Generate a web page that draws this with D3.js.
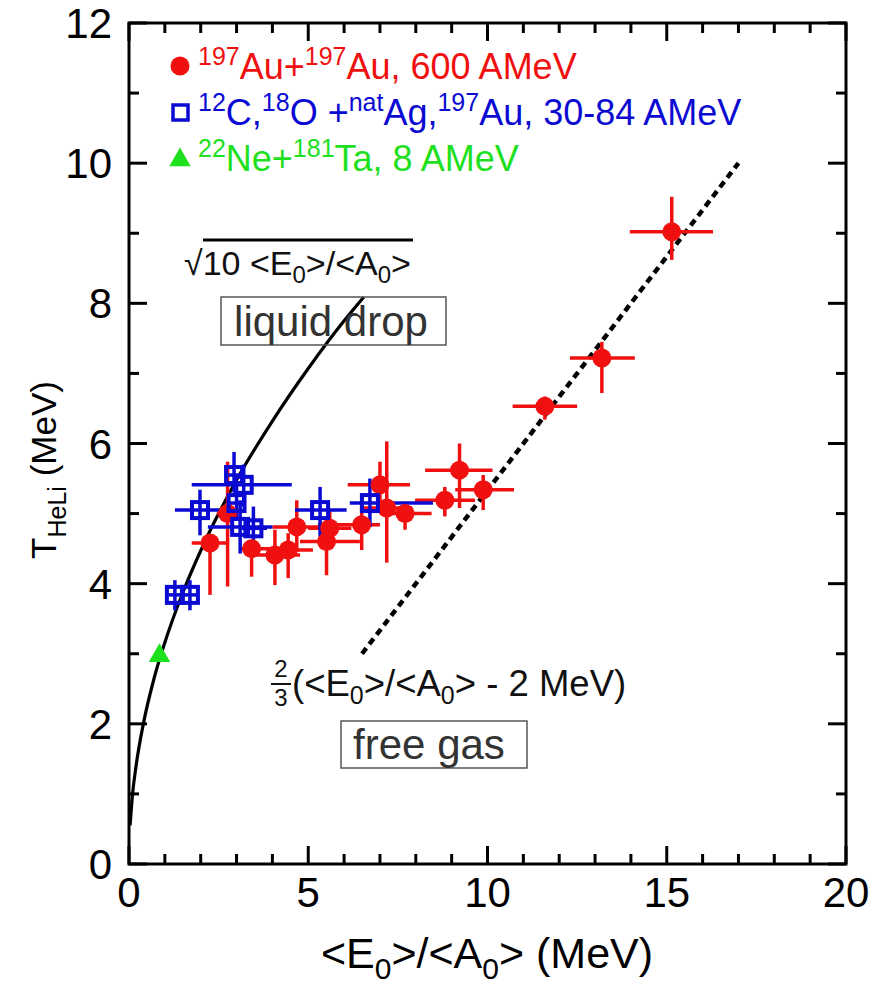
<!DOCTYPE html>
<html>
<head>
<meta charset="utf-8">
<script src="https://cdn.jsdelivr.net/npm/d3@7"></script>
<style>
  html, body { margin: 0; padding: 0; background: #fff; }
  svg text { font-family: "Liberation Sans", Arial, Helvetica, sans-serif; }
</style>
</head>
<body>
<svg id="chart" width="871" height="989"></svg>
<script>
// ---------- DATA ----------
// 197Au + 197Au, 600 AMeV (red circles)
const auX    = [2.26, 2.75, 3.42, 4.07, 4.44, 4.68, 5.51, 5.60, 6.49, 7.00, 7.19, 7.70, 8.81, 9.22, 9.88, 11.60, 13.19, 15.14];
const auY    = [4.58, 5.00, 4.50, 4.41, 4.48, 4.81, 4.60, 4.79, 4.84, 5.41, 5.08, 5.00, 5.19, 5.62, 5.34, 6.53, 7.22, 9.02];
const auXLo  = [1.75, 2.45, 3.10, 3.42, 4.00, 4.00, 4.77, 5.00, 5.27, 6.10, 6.50, 7.00, 7.98, 8.26, 9.10, 10.70, 12.30, 13.97];
const auXHi  = [2.76, 3.05, 4.00, 4.77, 5.13, 5.33, 6.44, 6.20, 7.00, 7.84, 7.90, 8.44, 9.65, 10.14, 10.74, 12.50, 14.11, 16.29];
const auYLo  = [3.84, 3.96, 4.10, 3.98, 4.08, 4.45, 4.12, 4.55, 4.48, 5.08, 4.30, 4.77, 4.96, 5.08, 5.05, 6.34, 6.72, 8.62];
const auYHi  = [4.68, 5.74, 4.60, 4.77, 4.72, 5.19, 4.86, 5.05, 5.10, 5.74, 6.03, 5.17, 5.38, 6.00, 5.55, 6.67, 7.45, 9.52];

// 12C,18O + natAg,197Au, 30-84 AMeV (blue open squares)
const cX   = [1.28, 1.70, 1.98, 2.93, 3.20, 3.00, 3.10, 3.47, 5.33, 6.72];
const cY   = [3.84, 3.84, 5.05, 5.55, 5.41, 5.15, 4.81, 4.79, 5.05, 5.15];
const cXLo = [1.10, 1.50, 1.28, 2.75, 1.75, 2.75, 2.20, 3.15, 4.63, 6.16];
const cXHi = [1.45, 1.90, 2.54, 3.10, 4.54, 3.25, 4.00, 3.85, 6.07, 8.48];
const cYLo = [3.62, 3.62, 4.69, 5.30, 5.10, 4.90, 4.43, 4.50, 4.67, 4.81];
const cYHi = [4.05, 4.05, 5.34, 5.88, 5.70, 5.40, 5.19, 5.10, 5.38, 5.50];

// 22Ne + 181Ta, 8 AMeV (green triangle)
const neX = [0.85];
const neY = [3.00];

// liquid drop curve sqrt(10 <E0>/<A0>)
const ldX = [0.03, 0.1, 0.2, 0.4, 0.7, 1.0, 1.5, 2.0, 2.5, 3.0, 4.0, 5.0, 6.0, 6.55];
const ldY = [0.55, 1.00, 1.41, 2.00, 2.65, 3.16, 3.87, 4.47, 5.00, 5.48, 6.32, 7.07, 7.75, 8.09];

// free gas line 2/3(<E0>/<A0> - 2 MeV)
const fgX = [6.5, 17.0];
const fgY = [3.0, 10.0];

// axes
const xTicks = [0, 5, 10, 15, 20];
const yTicks = [0, 2, 4, 6, 8, 10, 12];
const xMinor = d3.range(0, 21, 1);
const yMinor = d3.range(0, 13, 1);

// ---------- LAYOUT ----------
const svg = d3.select("#chart");
const L = 129, R = 846, T = 23, B = 864;
const x = d3.scaleLinear().domain([0, 20]).range([L, R]);
const y = d3.scaleLinear().domain([0, 12]).range([B, T]);

const RED = "#f01010", BLUE = "#0a0ad2", GREEN = "#1ee01e";

// ---------- curves ----------
const line = d3.line().x(d => x(d[0])).y(d => y(d[1]));
svg.append("path")
  .attr("d", line.curve(d3.curveMonotoneX)(ldX.map((v, i) => [v, ldY[i]])))
  .attr("fill", "none").attr("stroke", "#000").attr("stroke-width", 3.2);
svg.append("path")
  .attr("d", d3.line().x(d => x(d[0])).y(d => y(d[1]))(fgX.map((v, i) => [v, fgY[i]])))
  .attr("fill", "none").attr("stroke", "#000").attr("stroke-width", 4.5)
  .attr("stroke-dasharray", "7,5");

// ---------- error bars ----------
function errBars(xs, ys, xlo, xhi, ylo, yhi, color) {
  const g = svg.append("g").attr("stroke", color).attr("stroke-width", 3.5);
  xs.forEach((v, i) => {
    g.append("line").attr("x1", x(xlo[i])).attr("x2", x(xhi[i])).attr("y1", y(ys[i])).attr("y2", y(ys[i]));
    g.append("line").attr("x1", x(v)).attr("x2", x(v)).attr("y1", y(ylo[i])).attr("y2", y(yhi[i]));
  });
}
errBars(auX, auY, auXLo, auXHi, auYLo, auYHi, RED);
errBars(cX, cY, cXLo, cXHi, cYLo, cYHi, BLUE);

// ---------- markers ----------
svg.append("g").selectAll("circle").data(auX).join("circle")
  .attr("cx", d => x(d)).attr("cy", (d, i) => y(auY[i])).attr("r", 9.5).attr("fill", RED);
svg.append("g").selectAll("rect").data(cX).join("rect")
  .attr("x", d => x(d) - 8).attr("y", (d, i) => y(cY[i]) - 8)
  .attr("width", 16).attr("height", 16)
  .attr("fill", "none").attr("stroke", BLUE).attr("stroke-width", 4);
const tri = d3.symbol().type(d3.symbolTriangle).size(200);
svg.append("g").selectAll("path").data(neX).join("path")
  .attr("d", tri).attr("transform", (d, i) => `translate(${x(d)},${y(neY[i]) + 2})`)
  .attr("fill", GREEN);

// ---------- frame & ticks ----------
svg.append("rect").attr("x", L).attr("y", T).attr("width", R - L).attr("height", B - T)
  .attr("fill", "none").attr("stroke", "#000").attr("stroke-width", 3);
const tk = svg.append("g").attr("stroke", "#000").attr("stroke-width", 3);
xMinor.forEach(v => {
  const len = xTicks.includes(v) ? 18 : 10;
  tk.append("line").attr("x1", x(v)).attr("x2", x(v)).attr("y1", B).attr("y2", B - len);
  tk.append("line").attr("x1", x(v)).attr("x2", x(v)).attr("y1", T).attr("y2", T + len);
});
yMinor.forEach(v => {
  const len = yTicks.includes(v) ? 18 : 10;
  tk.append("line").attr("y1", y(v)).attr("y2", y(v)).attr("x1", L).attr("x2", L + len);
  tk.append("line").attr("y1", y(v)).attr("y2", y(v)).attr("x1", R).attr("x2", R - len);
});
svg.append("g").selectAll("text").data(xTicks).join("text")
  .attr("x", d => x(d)).attr("y", B + 43).attr("text-anchor", "middle")
  .attr("font-size", 42).text(d => d);
svg.append("g").selectAll("text").data(yTicks).join("text")
  .attr("x", L - 17).attr("y", d => y(d) + 15).attr("text-anchor", "end")
  .attr("font-size", 42).text(d => d);

// ---------- axis titles ----------
const xt = svg.append("text").attr("x", 487).attr("y", 968).attr("text-anchor", "middle").attr("font-size", 43);
xt.append("tspan").text("<E");
xt.append("tspan").attr("font-size", 30).attr("dy", 11).text("0");
xt.append("tspan").attr("dy", -11).text(">/<A");
xt.append("tspan").attr("font-size", 30).attr("dy", 11).text("0");
xt.append("tspan").attr("dy", -11).text("> (MeV)");

const yt = svg.append("text").attr("transform", "translate(56,470) rotate(-90)")
  .attr("text-anchor", "middle").attr("font-size", 35);
yt.append("tspan").text("T");
yt.append("tspan").attr("font-size", 25).attr("dy", 10).text("HeLi");
yt.append("tspan").attr("dy", -10).text(" (MeV)");

// ---------- legend ----------
const legend = [
  {sym: "circle", color: RED, parts: [["197", 1], ["Au+", 0], ["197", 1], ["Au, 600 AMeV", 0]]},
  {sym: "square", color: BLUE, parts: [["12", 1], ["C,", 0], ["18", 1], ["O +", 0], ["nat", 1], ["Ag,", 0], ["197", 1], ["Au, 30-84 AMeV", 0]]},
  {sym: "triangle", color: GREEN, parts: [["22", 1], ["Ne+", 0], ["181", 1], ["Ta, 8 AMeV", 0]]}
];
legend.forEach((l, i) => {
  const cy = 66 + i * 46;
  if (l.sym === "circle") svg.append("circle").attr("cx", 180).attr("cy", cy).attr("r", 9.5).attr("fill", l.color);
  if (l.sym === "square") svg.append("rect").attr("x", 173).attr("y", cy - 7).attr("width", 15).attr("height", 15)
      .attr("fill", "none").attr("stroke", l.color).attr("stroke-width", 3.5);
  if (l.sym === "triangle") svg.append("path").attr("d", d3.symbol().type(d3.symbolTriangle).size(200)())
      .attr("transform", `translate(180,${cy + 2})`).attr("fill", l.color);
  const t = svg.append("text").attr("x", 198).attr("y", cy + 13).attr("font-size", 36).attr("fill", l.color);
  let sup = false;
  l.parts.forEach(([s, isSup]) => {
    const ts = t.append("tspan").text(s);
    if (isSup && !sup) { ts.attr("font-size", 25).attr("dy", -14); sup = true; }
    else if (!isSup && sup) { ts.attr("dy", 14); sup = false; }
    else if (isSup) ts.attr("font-size", 25);
  });
});

// ---------- annotations ----------
const sq = svg.append("text").attr("x", 184).attr("y", 275).attr("font-size", 34).attr("fill", "#111");
sq.append("tspan").text("√10 <E");
sq.append("tspan").attr("font-size", 24).attr("dy", 8).text("0");
sq.append("tspan").attr("dy", -8).text(">/<A");
sq.append("tspan").attr("font-size", 24).attr("dy", 8).text("0");
sq.append("tspan").attr("dy", -8).text(">");
svg.append("line").attr("x1", 203).attr("x2", 413).attr("y1", 240).attr("y2", 240)
  .attr("stroke", "#000").attr("stroke-width", 3);

svg.append("rect").attr("x", 221).attr("y", 297).attr("width", 225).attr("height", 48)
  .attr("fill", "none").attr("stroke", "#555").attr("stroke-width", 1.5);
svg.append("text").attr("x", 331).attr("y", 336).attr("text-anchor", "middle")
  .attr("font-size", 42).attr("fill", "#333").text("liquid drop");

// fraction 2/3
svg.append("text").attr("x", 281).attr("y", 677).attr("text-anchor", "middle").attr("font-size", 24).attr("fill", "#111").text("2");
svg.append("line").attr("x1", 271).attr("x2", 291).attr("y1", 684).attr("y2", 684).attr("stroke", "#111").attr("stroke-width", 2);
svg.append("text").attr("x", 281).attr("y", 706).attr("text-anchor", "middle").attr("font-size", 24).attr("fill", "#111").text("3");
const fg = svg.append("text").attr("x", 292).attr("y", 696).attr("font-size", 36.5).attr("fill", "#111");
fg.append("tspan").text("(<E");
fg.append("tspan").attr("font-size", 25).attr("dy", 8).text("0");
fg.append("tspan").attr("dy", -8).text(">/<A");
fg.append("tspan").attr("font-size", 25).attr("dy", 8).text("0");
fg.append("tspan").attr("dy", -8).text("> - 2 MeV)");

svg.append("rect").attr("x", 341).attr("y", 721).attr("width", 186).attr("height", 47)
  .attr("fill", "none").attr("stroke", "#555").attr("stroke-width", 1.5);
svg.append("text").attr("x", 429).attr("y", 759).attr("text-anchor", "middle")
  .attr("font-size", 42).attr("fill", "#333").text("free gas");
</script>
</body>
</html>
